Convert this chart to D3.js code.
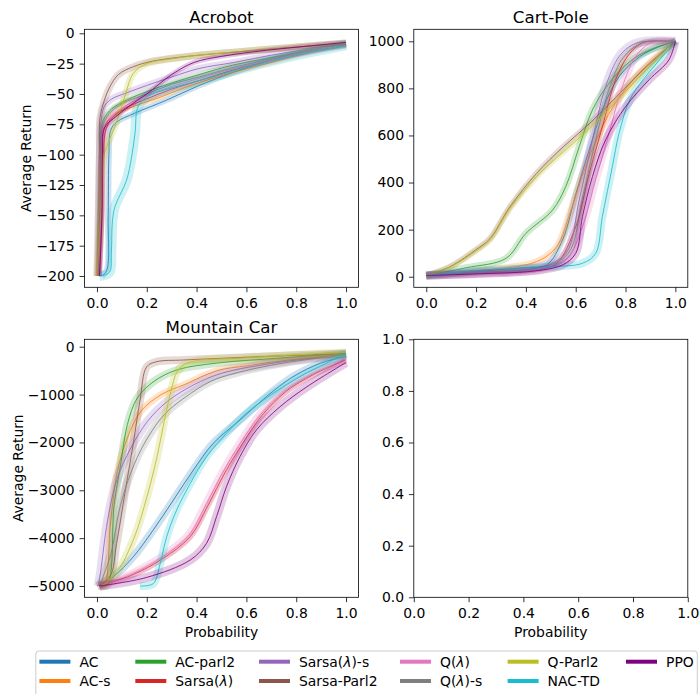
<!DOCTYPE html>
<html>
<head>
<meta charset="utf-8">
<script src="https://cdn.jsdelivr.net/npm/d3@7"></script>
<style>
  body { margin: 0; background: #fff; }
  svg { font-family: "DejaVu Sans", sans-serif; }
</style>
</head>
<body>
<svg id="chart" width="699" height="694"></svg>
<script>
// methods in legend order
const methods = ['AC', 'AC-s', 'AC-parl2', 'Sarsa(λ)', 'Sarsa(λ)-s', 'Sarsa-Parl2',
  'Q(λ)', 'Q(λ)-s', 'Q-Parl2', 'NAC-TD', 'PPO'];
const colors = ['#1f77b4', '#ff7f0e', '#2ca02c', '#d62728', '#9467bd', '#8c564b',
  '#e377c2', '#7f7f7f', '#bcbd22', '#17becf', '#800080'];

// [probability, average return] per method, same order as methods
const acrobot = [
  [[0.02,-200],[0.04,-195],[0.045,-150],[0.048,-100],[0.055,-80],[0.08,-73],[0.15,-66],[0.28,-55],[0.41,-43],[0.55,-32],[0.7,-22],[0.85,-15],[1.0,-10]],
  [[0.005,-200],[0.015,-150],[0.02,-100],[0.03,-78],[0.06,-68],[0.15,-60],[0.25,-53],[0.35,-45],[0.45,-38],[0.55,-32],[0.7,-24],[0.85,-16],[1.0,-10]],
  [[0.005,-200],[0.01,-150],[0.015,-100],[0.02,-75],[0.05,-64],[0.1,-57],[0.2,-48],[0.3,-41],[0.41,-34],[0.55,-26],[0.7,-20],[0.85,-14],[1.0,-9]],
  [[0.01,-200],[0.02,-150],[0.025,-100],[0.035,-80],[0.06,-70],[0.12,-61],[0.2,-54],[0.3,-46],[0.41,-39],[0.55,-30],[0.7,-22],[0.85,-15],[1.0,-9]],
  [[0.005,-200],[0.008,-150],[0.01,-100],[0.015,-75],[0.03,-60],[0.06,-54],[0.12,-49],[0.2,-43],[0.3,-36],[0.41,-29],[0.55,-24],[0.7,-18],[0.85,-13],[1.0,-9]],
  [[0.0,-200],[0.005,-150],[0.01,-100],[0.012,-70],[0.03,-55],[0.052,-44],[0.086,-34],[0.146,-27.5],[0.213,-23.4],[0.3,-20.5],[0.41,-18],[0.55,-15.5],[0.7,-13],[0.85,-10.5],[1.0,-8]],
  [[0.005,-200],[0.015,-150],[0.02,-100],[0.03,-78],[0.06,-68],[0.12,-59],[0.2,-51],[0.3,-44],[0.41,-37],[0.55,-29],[0.7,-22],[0.85,-15],[1.0,-9]],
  [[0.005,-200],[0.01,-150],[0.015,-100],[0.02,-78],[0.05,-66],[0.1,-58],[0.2,-50],[0.3,-42],[0.41,-36],[0.55,-28],[0.7,-21],[0.85,-14],[1.0,-9]],
  [[0.0,-200],[0.015,-150],[0.025,-104],[0.045,-90],[0.072,-77],[0.112,-52],[0.146,-33],[0.2,-25],[0.3,-21],[0.41,-18],[0.55,-15.5],[0.7,-13],[0.85,-10.5],[1.0,-8]],
  [[0.01,-200],[0.05,-197],[0.058,-180],[0.062,-155],[0.072,-143],[0.119,-121],[0.139,-102],[0.153,-82],[0.166,-60],[0.213,-51],[0.3,-45],[0.41,-39],[0.55,-31],[0.7,-23],[0.85,-16],[1.0,-10]],
  [[0.01,-200],[0.02,-150],[0.022,-100],[0.03,-78],[0.08,-68],[0.15,-57],[0.2,-50],[0.3,-34],[0.39,-24],[0.5,-19],[0.68,-14],[0.85,-10.5],[1.0,-7.5]]
];

const cartPole = [
  [[0,5],[0.2,22],[0.4,40],[0.483,50],[0.547,156],[0.601,354],[0.654,538],[0.707,708],[0.774,850],[0.857,935],[0.93,975],[1,1000]],
  [[0,5],[0.2,25],[0.443,64],[0.524,128],[0.577,270],[0.63,439],[0.683,581],[0.75,722],[0.83,836],[0.924,935],[1,1000]],
  [[0,5],[0.16,38],[0.32,78],[0.4,184],[0.507,283],[0.56,383],[0.614,552],[0.667,708],[0.734,822],[0.817,914],[0.9,965],[1,1000]],
  [[0,5],[0.2,15],[0.45,30],[0.524,57],[0.6,212],[0.654,439],[0.707,637],[0.76,836],[0.817,949],[0.87,995],[0.9,1000],[1,1000]],
  [[0,5],[0.2,18],[0.45,40],[0.56,99],[0.614,326],[0.667,581],[0.72,807],[0.774,935],[0.827,985],[0.88,1000],[1,1000]],
  [[0,5],[0.1,45],[0.2,115],[0.256,162],[0.336,297],[0.443,439],[0.55,552],[0.657,652],[0.764,765],[0.87,878],[1,1000]],
  [[0,5],[0.2,12],[0.44,28],[0.56,71],[0.627,212],[0.68,411],[0.734,609],[0.787,807],[0.84,935],[0.894,990],[0.93,1000],[1,1000]],
  [[0,5],[0.2,18],[0.46,40],[0.57,99],[0.625,326],[0.68,581],[0.735,800],[0.79,930],[0.85,985],[0.9,1000],[1,1000]],
  [[0,5],[0.1,43],[0.2,110],[0.256,157],[0.336,290],[0.443,425],[0.55,530],[0.657,630],[0.764,745],[0.87,865],[1,1000]],
  [[0,5],[0.2,25],[0.483,42],[0.627,57],[0.68,99],[0.707,255],[0.747,467],[0.774,609],[0.817,751],[0.87,836],[0.937,921],[1,1000]],
  [[0,5],[0.2,12],[0.44,25],[0.547,50],[0.6,99],[0.627,255],[0.667,425],[0.72,581],[0.8,722],[0.894,836],[0.974,921],[1,1000]]
];

const mountainCar = [
  [[0.01,-5000],[0.066,-4806],[0.146,-4388],[0.226,-3830],[0.307,-3203],[0.387,-2576],[0.467,-2019],[0.574,-1532],[0.68,-1045],[0.787,-627],[0.896,-348],[1,-200]],
  [[0.01,-5000],[0.03,-4972],[0.055,-3648],[0.082,-2604],[0.122,-1908],[0.176,-1350],[0.257,-1003],[0.35,-794],[0.483,-500],[0.6,-400],[0.8,-260],[1,-160]],
  [[0.01,-5000],[0.042,-4972],[0.069,-3301],[0.095,-2466],[0.122,-1630],[0.162,-1072],[0.229,-723],[0.323,-481],[0.483,-341],[0.7,-250],[1,-140]],
  [[0.01,-5000],[0.15,-4750],[0.26,-4440],[0.374,-3970],[0.445,-3320],[0.515,-2620],[0.585,-2019],[0.662,-1440],[0.76,-930],[0.87,-580],[1,-270]],
  [[0.005,-5000],[0.015,-4693],[0.042,-3648],[0.082,-2743],[0.136,-2117],[0.203,-1559],[0.283,-1141],[0.39,-794],[0.497,-560],[0.7,-350],[1,-160]],
  [[0.0,-5000],[0.052,-4806],[0.079,-4108],[0.112,-3063],[0.146,-2019],[0.173,-1114],[0.2,-418],[0.24,-313],[0.347,-278],[0.6,-220],[1,-140]],
  [[0.01,-5000],[0.145,-4740],[0.255,-4420],[0.368,-3950],[0.438,-3300],[0.508,-2600],[0.578,-2000],[0.655,-1430],[0.755,-920],[0.865,-570],[1,-260]],
  [[0.01,-5000],[0.055,-4346],[0.095,-3301],[0.149,-2466],[0.203,-1908],[0.27,-1420],[0.35,-1072],[0.457,-723],[0.55,-560],[0.75,-340],[1,-170]],
  [[0.02,-5000],[0.082,-4693],[0.149,-3997],[0.203,-3092],[0.243,-2256],[0.27,-1559],[0.297,-932],[0.323,-514],[0.363,-341],[0.6,-230],[1,-120]],
  [[0.173,-5000],[0.226,-4950],[0.254,-4526],[0.28,-3970],[0.32,-3412],[0.375,-2855],[0.44,-2298],[0.52,-1810],[0.6,-1392],[0.707,-974],[0.814,-627],[0.92,-348],[1,-150]],
  [[0.01,-5000],[0.2,-4820],[0.374,-4458],[0.44,-4108],[0.48,-3552],[0.52,-2925],[0.574,-2298],[0.64,-1740],[0.735,-1254],[0.843,-836],[1,-330]]
];

const acrobotTicks = [-200, -175, -150, -125, -100, -75, -50, -25, 0];
const cartPoleTicks = [0, 200, 400, 600, 800, 1000];
const mountainCarTicks = [-5000, -4000, -3000, -2000, -1000, 0];
const probTicks = [0, 0.2, 0.4, 0.6, 0.8, 1.0];

// shaded band thickness (px) per method
const acrobotBand = [6, 5, 5, 5, 7, 7, 6, 5, 7, 10, 5];
const cartPoleBand = [6, 7, 7, 5, 9, 6, 8, 6, 6, 8, 8];
const mountainCarBand = [8, 7, 8, 6, 9, 8, 9, 8, 8, 8, 9];

const W = 274, H = 258;
const svg = d3.select('#chart');
const FS = 13.9;

const panels = [
  { title: 'Acrobot', left: 84.5, top: 29.3, series: acrobot, band: acrobotBand,
    xDomain: [-0.05, 1.05], yDomain: [-209.3, 3.3], yTicks: acrobotTicks, yFmt: d3.format('d'),
    ylabel: 30.5, xlabel: false },
  { title: 'Cart-Pole', left: 413.8, top: 29.3, series: cartPole, band: cartPoleBand,
    xDomain: [-0.05, 1.05], yDomain: [-45, 1051], yTicks: cartPoleTicks, yFmt: d3.format('d'),
    ylabel: null, xlabel: false },
  { title: 'Mountain Car', left: 84.5, top: 339.3, series: mountainCar, band: mountainCarBand,
    xDomain: [-0.05, 1.05], yDomain: [-5236, 155], yTicks: mountainCarTicks, yFmt: d3.format('d'),
    ylabel: 22.5, xlabel: true },
  { title: null, left: 413.8, top: 339.3, series: [], band: [],
    xDomain: [0, 1], yDomain: [0, 1], yTicks: probTicks, yFmt: d3.format('.1f'),
    ylabel: null, xlabel: true }
];

panels.forEach((p, k) => {
  const x = d3.scaleLinear().domain(p.xDomain).range([p.left, p.left + W]);
  const y = d3.scaleLinear().domain(p.yDomain).range([p.top + H, p.top]);
  const g = svg.append('g');

  g.append('clipPath').attr('id', 'clip' + k)
    .append('rect').attr('x', p.left).attr('y', p.top).attr('width', W).attr('height', H);

  const line = d3.line()
    .x(d => x(d[0]))
    .y(d => y(d[1]))
    .curve(d3.curveCatmullRom.alpha(0.5));

  const plot = g.append('g').attr('clip-path', `url(#clip${k})`);
  p.series.forEach((pts, i) => {
    plot.append('path')
      .attr('d', line(pts))
      .attr('fill', 'none')
      .attr('stroke', colors[i])
      .attr('stroke-opacity', 0.22)
      .attr('stroke-width', p.band[i])
      .attr('stroke-linejoin', 'round');
    plot.append('path')
      .attr('d', line(pts))
      .attr('fill', 'none')
      .attr('stroke', colors[i])
      .attr('stroke-width', 0.85);
  });

  const xAxis = g.append('g')
    .attr('transform', `translate(0,${p.top + H})`)
    .call(d3.axisBottom(x).tickValues(probTicks).tickFormat(d3.format('.1f'))
      .tickSize(4.9).tickPadding(4.9));
  xAxis.selectAll('text').attr('dy', '0.79em');

  const yAxis = g.append('g')
    .attr('transform', `translate(${p.left},0)`)
    .call(d3.axisLeft(y).tickValues(p.yTicks).tickFormat(p.yFmt)
      .tickSize(4.9).tickPadding(4.9));

  [xAxis, yAxis].forEach(a => {
    a.attr('font-family', null).attr('font-size', null);
    a.select('.domain').remove();
    a.selectAll('line').attr('stroke', '#000').attr('stroke-width', 0.8);
    a.selectAll('text').attr('fill', '#000').style('font-size', FS + 'px');
  });

  g.append('rect')
    .attr('x', p.left).attr('y', p.top).attr('width', W).attr('height', H)
    .attr('fill', 'none').attr('stroke', '#000').attr('stroke-width', 0.8);

  if (p.title) {
    g.append('text')
      .attr('x', p.left + W / 2).attr('y', p.top - 6.6)
      .attr('text-anchor', 'middle')
      .style('font-size', '16.7px')
      .text(p.title);
  }
  if (p.ylabel) {
    g.append('text')
      .attr('transform', `translate(${p.ylabel},${p.top + H / 2}) rotate(-90)`)
      .attr('text-anchor', 'middle')
      .style('font-size', FS + 'px')
      .text('Average Return');
  }
  if (p.xlabel) {
    g.append('text')
      .attr('x', p.left + W / 2).attr('y', p.top + H + 39.5)
      .attr('text-anchor', 'middle')
      .style('font-size', FS + 'px')
      .text('Probability');
  }
});

// legend: 6 columns, 2 rows, filled column by column
const legendCols = [39.4, 135.3, 259, 400, 507.6, 626];
const legendRows = [661.7, 681];
const legend = svg.append('g');
legend.append('rect')
  .attr('x', 35.8).attr('y', 651).attr('width', 661.5).attr('height', 50)
  .attr('rx', 3).attr('fill', '#fff').attr('stroke', '#ccc').attr('stroke-width', 1);

methods.forEach((name, i) => {
  const cx = legendCols[Math.floor(i / 2)];
  const cy = legendRows[i % 2];
  legend.append('line')
    .attr('x1', cx).attr('x2', cx + 31).attr('y1', cy).attr('y2', cy)
    .attr('stroke', colors[i]).attr('stroke-width', 4);
  const t = legend.append('text')
    .attr('x', cx + 40).attr('y', cy).attr('dy', '0.36em')
    .style('font-size', FS + 'px');
  name.split('λ').forEach((part, j) => {
    if (j > 0) t.append('tspan').style('font-style', 'italic').text('λ');
    if (part) t.append('tspan').text(part);
  });
});
</script>
</body>
</html>
